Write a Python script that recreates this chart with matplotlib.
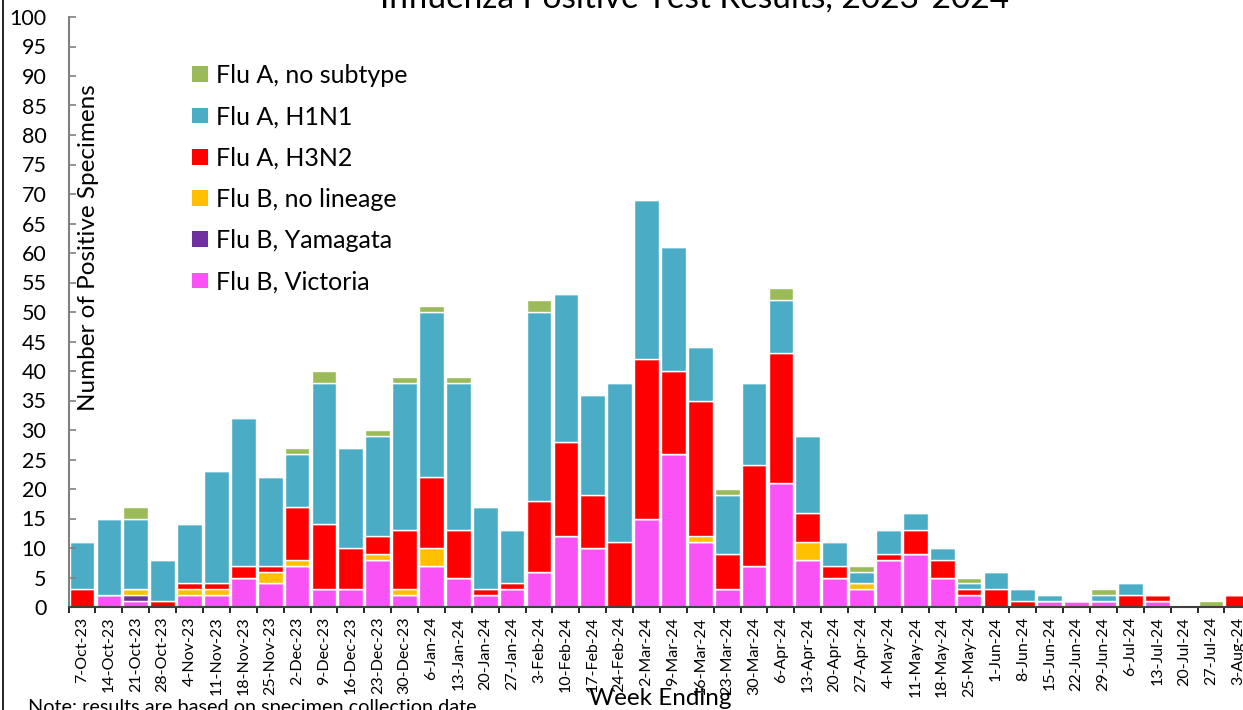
import matplotlib
matplotlib.use("Agg")
import matplotlib.pyplot as plt
from matplotlib.lines import Line2D
from matplotlib.patches import Patch
import numpy as np

plt.rcParams['font.family'] = ['Lato', 'DejaVu Sans']

weeks = ["7-Oct-23", "14-Oct-23", "21-Oct-23", "28-Oct-23", "4-Nov-23", "11-Nov-23",
         "18-Nov-23", "25-Nov-23", "2-Dec-23", "9-Dec-23", "16-Dec-23", "23-Dec-23",
         "30-Dec-23", "6-Jan-24", "13-Jan-24", "20-Jan-24", "27-Jan-24", "3-Feb-24",
         "10-Feb-24", "17-Feb-24", "24-Feb-24", "2-Mar-24", "9-Mar-24", "16-Mar-24",
         "23-Mar-24", "30-Mar-24", "6-Apr-24", "13-Apr-24", "20-Apr-24", "27-Apr-24",
         "4-May-24", "11-May-24", "18-May-24", "25-May-24", "1-Jun-24", "8-Jun-24",
         "15-Jun-24", "22-Jun-24", "29-Jun-24", "6-Jul-24", "13-Jul-24", "20-Jul-24",
         "27-Jul-24", "3-Aug-24"]

b_victoria = [0, 2, 1, 0, 2, 2, 5, 4, 7, 3, 3, 8, 2, 7, 5, 2, 3, 6, 12, 10, 0, 15,
              26, 11, 3, 7, 21, 8, 5, 3, 8, 9, 5, 2, 0, 0, 1, 1, 1, 0, 1, 0, 0, 0]
b_yamagata = [0, 0, 1, 0, 0, 0, 0, 0, 0, 0, 0, 0, 0, 0, 0, 0, 0, 0, 0, 0, 0, 0,
              0, 0, 0, 0, 0, 0, 0, 0, 0, 0, 0, 0, 0, 0, 0, 0, 0, 0, 0, 0, 0, 0]
b_nolineage = [0, 0, 1, 0, 1, 1, 0, 2, 1, 0, 0, 1, 1, 3, 0, 0, 0, 0, 0, 0, 0, 0,
               0, 1, 0, 0, 0, 3, 0, 1, 0, 0, 0, 0, 0, 0, 0, 0, 0, 0, 0, 0, 0, 0]
a_h3n2 = [3, 0, 0, 1, 1, 1, 2, 1, 9, 11, 7, 3, 10, 12, 8, 1, 1, 12, 16, 9, 11, 27,
          14, 23, 6, 17, 22, 5, 2, 0, 1, 4, 3, 1, 3, 1, 0, 0, 0, 2, 1, 0, 0, 2]
a_h1n1 = [8, 13, 12, 7, 10, 19, 25, 15, 9, 24, 17, 17, 25, 28, 25, 14, 9, 32, 25, 17, 27, 27,
          21, 9, 10, 14, 9, 13, 4, 2, 4, 3, 2, 1, 3, 2, 1, 0, 1, 2, 0, 0, 0, 0]
a_nosubtype = [0, 0, 2, 0, 0, 0, 0, 0, 1, 2, 0, 1, 1, 1, 1, 0, 0, 2, 0, 0, 0, 0,
               0, 0, 1, 0, 2, 0, 0, 1, 0, 0, 0, 1, 0, 0, 0, 0, 1, 0, 0, 0, 1, 0]

series = [("Flu B, Victoria", b_victoria, "#F952F5"),
          ("Flu B, Yamagata", b_yamagata, "#7030A0"),
          ("Flu B, no lineage", b_nolineage, "#FFC000"),
          ("Flu A, H3N2", a_h3n2, "#FF0000"),
          ("Flu A, H1N1", a_h1n1, "#4BACC6"),
          ("Flu A, no subtype", a_nosubtype, "#9BBB59")]

fig = plt.figure(figsize=(12.43, 7.10), dpi=100)
ax = fig.add_axes([68.6 / 1243, 103 / 710, 1182.7 / 1243, 590 / 710])

x = np.arange(len(weeks))
bottom = np.zeros(len(weeks))
for name, vals, col in series:
    v = np.array(vals, dtype=float)
    ax.bar(x, v, bottom=bottom, width=0.92, color=col, edgecolor="white",
           linewidth=1.0, label=name)
    bottom += v

ax.set_xlim(-0.5, len(weeks) - 0.5)
ax.set_ylim(0, 100)
ax.set_yticks(np.arange(0, 101, 5))
ax.tick_params(axis='y', labelsize=15.5, length=5, width=1.2, direction='in',
               color="#808080", pad=16)

ax.set_xticks(x)
ax.set_xticklabels(weeks, rotation=90, fontsize=11.5)
ax.tick_params(axis='x', which='major', length=0, pad=7)
ax.set_xticks(np.arange(-0.5, len(weeks), 1), minor=True)
ax.tick_params(axis='x', which='minor', length=4, width=1.2, color="black")

for s in ["top", "right"]:
    ax.spines[s].set_visible(False)
ax.spines["left"].set_color("#808080")
ax.spines["left"].set_linewidth(1.5)
ax.spines["bottom"].set_color("#404040")
ax.spines["bottom"].set_linewidth(1.5)

handles = [Patch(facecolor=col, edgecolor="none") for _, _, col in series][::-1]
labels = [name for name, _, _ in series][::-1]
fig.legend(handles, labels, loc="upper left", bbox_to_anchor=(192 / 1243, 1 - 64 / 710),
           frameon=False, fontsize=18, handlelength=0.64, handleheight=0.6,
           handletextpad=0.32, labelspacing=0.73, borderpad=0, borderaxespad=0)

fig.text(89 / 1243, 1 - 248 / 710, "Number of Positive Specimens", rotation=90,
         ha="center", va="center", fontsize=17.5)
fig.text(660 / 1243, 1 - 705 / 710, "Week Ending", ha="center", va="baseline", fontsize=17.5)
fig.text(28 / 1243, 1 - 713 / 710, "Note: results are based on specimen collection date.",
         ha="left", va="baseline", fontsize=14.3)
fig.text(695 / 1243, 1 - 8 / 710, "Influenza Positive Test Results, 2023-2024",
         ha="center", va="baseline", fontsize=24)

fig.add_artist(Line2D([3 / 1243, 3 / 1243], [0, 1], color="black", linewidth=1.2,
                      transform=fig.transFigure))

fig.savefig("out.png", dpi=100)
